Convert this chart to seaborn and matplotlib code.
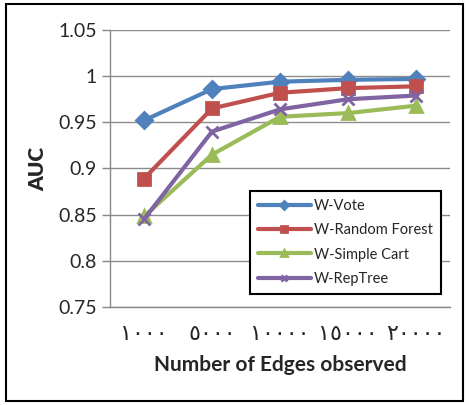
import pandas as pd
import matplotlib
matplotlib.use('Agg')
import matplotlib.pyplot as plt
import seaborn as sns
from matplotlib.patches import Rectangle

# Data
edges = ['١٠٠٠', '٥٠٠٠', '١٠٠٠٠', '١٥٠٠٠', '٢٠٠٠٠']
w_vote = [0.952, 0.986, 0.994, 0.996, 0.997]
w_random_forest = [0.889, 0.965, 0.982, 0.987, 0.989]
w_simple_cart = [0.848, 0.915, 0.956, 0.960, 0.968]
w_reptree = [0.845, 0.940, 0.964, 0.975, 0.979]

series = {
    'W-Vote': w_vote,
    'W-Random Forest': w_random_forest,
    'W-Simple Cart': w_simple_cart,
    'W-RepTree': w_reptree,
}
colors = ['#4F81BD', '#C0504D', '#9BBB59', '#8064A2']
markers = ['D', 's', '^', 'x']

rows = []
for name, vals in series.items():
    for i, v in enumerate(vals):
        rows.append({'pos': i, 'AUC': v, 'model': name})
df = pd.DataFrame(rows)

sns.set_style('white')
plt.rcParams['font.family'] = ['Lato', 'DejaVu Sans']

fig = plt.figure(figsize=(4.69, 4.05), dpi=100)
ax = fig.add_axes([0.2345, 0.242, 0.725, 0.684])

for (name, _), color, marker in zip(series.items(), colors, markers):
    sub = df[df['model'] == name]
    sns.lineplot(data=sub, x='pos', y='AUC', ax=ax, color=color, marker=marker,
                 markersize=8, markeredgecolor=color, markeredgewidth=2,
                 linewidth=3, label=name)

ax.set_xlim(-0.5, 4.5)
ax.set_ylim(0.75, 1.05)
ax.set_yticks([0.75, 0.8, 0.85, 0.9, 0.95, 1.0, 1.05])
ax.set_yticklabels(['0.75', '0.8', '0.85', '0.9', '0.95', '1', '1.05'], fontsize=14)
ax.set_xticks(range(5))
ax.set_xticklabels(edges, fontsize=16, family=['DejaVu Sans'])
ax.set_xticks([i - 0.5 for i in range(6)], minor=True)
ax.tick_params(axis='x', which='major', length=0, pad=12)
ax.tick_params(axis='x', which='minor', length=6, color='#888888', width=1, direction='out')
ax.tick_params(axis='y', length=6, color='#888888', width=1, direction='out', left=True)

ax.grid(axis='y', color='#8c8c8c', linewidth=1)
ax.set_axisbelow(True)
for side in ['top', 'right']:
    ax.spines[side].set_visible(False)
for side in ['left', 'bottom']:
    ax.spines[side].set_color('#888888')
    ax.spines[side].set_linewidth(1)

ax.set_xlabel('Number of Edges observed', fontsize=15, fontweight='bold', labelpad=8)
ax.set_ylabel('AUC', fontsize=15, fontweight='heavy', labelpad=8)

leg = ax.legend(loc='lower right', bbox_to_anchor=(0.985, 0.032), fontsize=10.5,
                frameon=True, fancybox=False, framealpha=1, edgecolor='black',
                handlelength=3.6, borderpad=0.55, labelspacing=0.7, handletextpad=0.2,
                markerscale=0.5, borderaxespad=0.3)
leg.get_frame().set_linewidth(1.5)

fig.patches.append(Rectangle((0.012, 0.01), 0.976, 0.98, transform=fig.transFigure,
                             fill=False, edgecolor='black', linewidth=1.5))

fig.savefig('out.png', dpi=100)
